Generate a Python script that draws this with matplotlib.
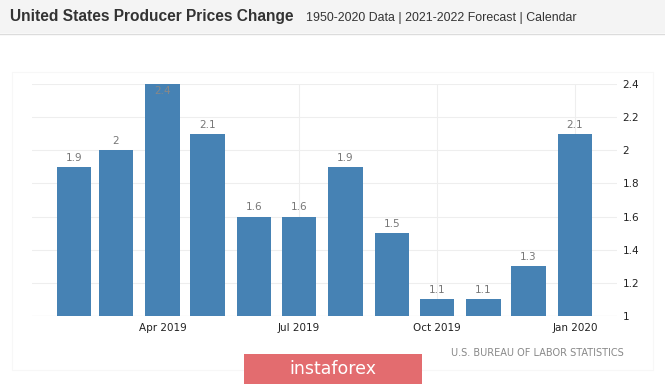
import matplotlib
matplotlib.use("Agg")
import matplotlib.pyplot as plt
import matplotlib.dates as mdates
from matplotlib.patches import Rectangle
import datetime as dt

# ---- data ----
months = ["2019-02", "2019-03", "2019-04", "2019-05", "2019-06", "2019-07",
          "2019-08", "2019-09", "2019-10", "2019-11", "2019-12", "2020-01"]
values = [1.9, 2.0, 2.4, 2.1, 1.6, 1.6, 1.9, 1.5, 1.1, 1.1, 1.3, 2.1]
tick_months = ["2019-04", "2019-07", "2019-10", "2020-01"]
tick_labels = ["Apr 2019", "Jul 2019", "Oct 2019", "Jan 2020"]
y_ticks = [1, 1.2, 1.4, 1.6, 1.8, 2, 2.2, 2.4]
title = "United States Producer Prices Change"
subtitle = "1950-2020 Data | 2021-2022 Forecast | Calendar"
source = "U.S. BUREAU OF LABOR STATISTICS"
brand = "instaforex"

W, H = 665, 385
fig = plt.figure(figsize=(W / 100, H / 100), dpi=100)
fig.patch.set_facecolor("white")

def fx(px):
    return px / W

def fy(py):
    return 1 - py / H

# header band
fig.patches.append(Rectangle((0, fy(33)), 1, 33 / H, transform=fig.transFigure,
                             facecolor="#f4f4f4", edgecolor="none", zorder=0))
fig.lines.append(plt.Line2D([0, 1], [fy(33.5), fy(33.5)], transform=fig.transFigure,
                            color="#dcdcdc", lw=1))
fig.text(fx(10), fy(17), title, fontsize=11.2, fontweight="bold", color="#333333",
         family="Liberation Sans", va="center", ha="left")
fig.text(fx(306), fy(17.5), subtitle, fontsize=8.9, color="#333333",
         family="Liberation Sans", va="center", ha="left")

# faint chart frame
fig.patches.append(Rectangle((fx(12), fy(370)), fx(641), (370 - 72) / H,
                             transform=fig.transFigure, facecolor="none",
                             edgecolor="#f7f7f7", lw=0.8, zorder=0))

ax = fig.add_axes([fx(32), fy(316), fx(617 - 32), (316 - 84) / H])
ax.set_facecolor("white")

dates = [dt.datetime.strptime(m + "-01", "%Y-%m-%d") for m in months]
xs = mdates.date2num(dates)
bars = ax.bar(xs, [v - 1 for v in values], bottom=1, width=22.7,
              color="#4682b4", zorder=3)

ymax = 2.4
for x, v in zip(xs, values):
    lbl = "%g" % v
    if v >= ymax - 0.05:
        ax.text(x, v - 0.015, lbl, ha="center", va="top", fontsize=7.5,
                color="#888888", zorder=4)
    else:
        ax.text(x, v + 0.025, lbl, ha="center", va="bottom", fontsize=7.5,
                color="#777777", zorder=4)

left = mdates.date2num(dt.datetime(2019, 1, 4))
right = mdates.date2num(dt.datetime(2020, 1, 29))
ax.set_xlim(left, right)
ax.set_ylim(1, ymax)

tx = mdates.date2num([dt.datetime.strptime(m + "-01", "%Y-%m-%d") for m in tick_months])
ax.set_xticks(tx)
ax.set_xticklabels(tick_labels, fontsize=7.5, color="#222222")
ax.tick_params(axis="x", length=0, pad=5)

ax.yaxis.tick_right()
ax.set_yticks(y_ticks)
ax.set_yticklabels(["%g" % t for t in y_ticks], fontsize=7.5, color="#222222")
ax.tick_params(axis="y", length=0, pad=4)

ax.grid(True, color="#eeeeee", lw=0.8, zorder=0)
for s in ax.spines.values():
    s.set_visible(False)
ax.axhline(1, color="#e6e6e6", lw=0.8, zorder=1)

fig.text(fx(624), fy(353), source, fontsize=7.0, color="#888888", ha="right",
         va="center")

# brand box
fig.patches.append(Rectangle((fx(244), fy(384)), fx(178), 30 / H,
                             transform=fig.transFigure, facecolor="#e36c6f",
                             edgecolor="none", zorder=5))
fig.text(fx(333), fy(369), brand, fontsize=12.5, color="white", ha="center",
         va="center", zorder=6)

fig.savefig("out.png", dpi=100, facecolor=fig.get_facecolor())
